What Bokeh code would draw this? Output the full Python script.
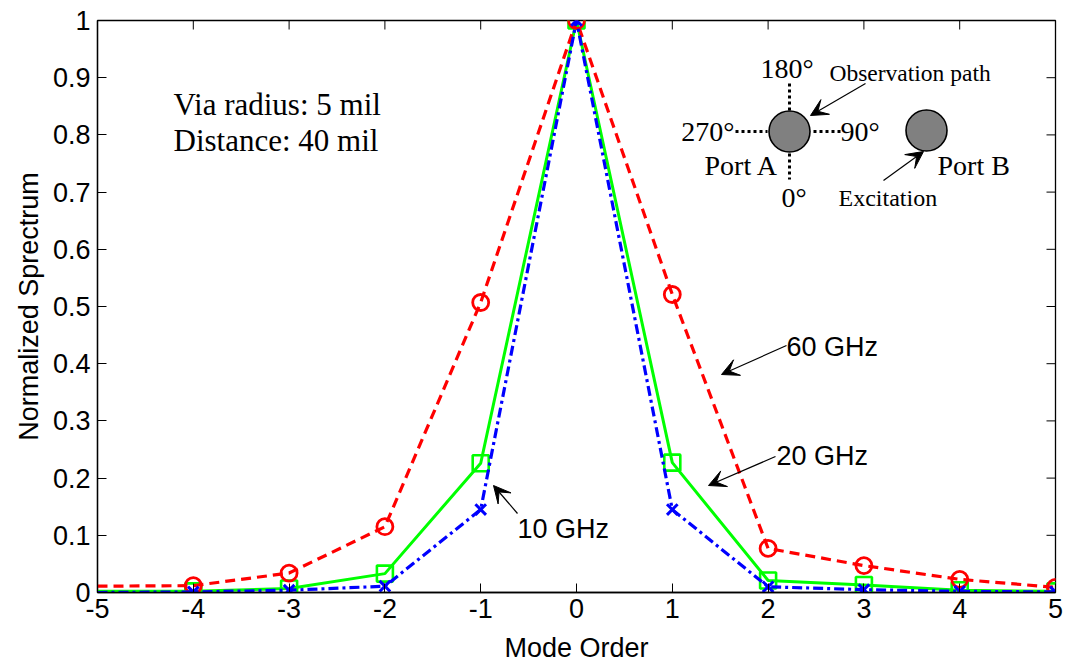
from bokeh.plotting import figure
from bokeh.models import (ColumnDataSource, CDSView, IndexFilter, FixedTicker,
                          Label, Arrow, VeeHead, Range1d)
from bokeh.embed import file_html
from bokeh.resources import INLINE

# ---------------- data ----------------
modes = [-5, -4, -3, -2, -1, 0, 1, 2, 3, 4, 5]
spec_60ghz = [0.011, 0.012, 0.034, 0.115, 0.507, 1.0, 0.521, 0.077, 0.047, 0.023, 0.009]
spec_20ghz = [0.002, 0.002, 0.007, 0.033, 0.226, 1.0, 0.227, 0.021, 0.013, 0.004, 0.002]
spec_10ghz = [0.000, 0.001, 0.004, 0.011, 0.145, 1.0, 0.145, 0.010, 0.005, 0.002, 0.001]
x_ticks = [-5, -4, -3, -2, -1, 0, 1, 2, 3, 4, 5]
x_tick_labels = ["-5", "-4", "-3", "-2", "-1", "0", "1", "2", "3", "4", "5"]
y_ticks = [0, 0.1, 0.2, 0.3, 0.4, 0.5, 0.6, 0.7, 0.8, 0.9, 1]
y_tick_labels = ["0", "0.1", "0.2", "0.3", "0.4", "0.5", "0.6", "0.7", "0.8", "0.9", "1"]

# ---------------- layout ----------------
FL, FT, FW, FH = 97, 20, 958, 572
p = figure(frame_width=FW, frame_height=FH, min_border_left=FL, min_border_right=1067 - FL - FW,
           min_border_top=FT, min_border_bottom=664 - FT - FH,
           x_range=Range1d(-5, 5), y_range=Range1d(0, 1),
           output_backend="svg", toolbar_location=None, background_fill_color="white",
           border_fill_color="white")
p.grid.visible = False
p.outline_line_color = "black"
p.outline_line_width = 1.3

def X(px):
    return -5 + (px - FL) / FW * 10.0

def Y(py):
    return 1 - (py - FT) / FH

SANS = "Liberation Sans"
SERIF = "Liberation Serif"
TICK = 9

for ax in (p.xaxis[0], p.yaxis[0]):
    ax.major_tick_in = TICK
    ax.major_tick_out = 0
    ax.minor_tick_line_color = None
    ax.axis_line_color = "black"
    ax.axis_line_width = 1.3
    ax.major_tick_line_color = "black"
    ax.major_tick_line_width = 1
    ax.major_label_text_font = SANS
    ax.major_label_text_font_size = "27px"
    ax.major_label_text_color = "black"
    ax.axis_label_text_font = SANS
    ax.axis_label_text_font_size = "27px"
    ax.axis_label_text_font_style = "normal"
    ax.axis_label_text_color = "black"

p.xaxis.ticker = FixedTicker(ticks=x_ticks)
p.yaxis.ticker = FixedTicker(ticks=y_ticks)
p.xaxis.major_label_overrides = {t: s for t, s in zip(x_ticks, x_tick_labels)}
p.yaxis.major_label_overrides = {t: s for t, s in zip(y_ticks, y_tick_labels)}
p.xaxis.axis_label = "Mode Order"
p.yaxis.axis_label = "Normalized Sprectrum"
p.xaxis.major_label_standoff = 6
p.yaxis.major_label_standoff = 7
p.xaxis.axis_label_standoff = 12
p.yaxis.axis_label_standoff = 6

# top / right inward ticks of the box (derived from tick lists)
tx = x_ticks[1:-1]
p.segment(x0=tx, y0=[1] * len(tx), x1=tx, y1=[1 - TICK / FH] * len(tx),
          line_color="black", line_width=1)
ty = y_ticks[1:-1]
p.segment(x0=[5] * len(ty), y0=ty, x1=[5 - TICK / FW * 10] * len(ty), y1=ty,
          line_color="black", line_width=1)

# ---------------- series ----------------
src = ColumnDataSource(dict(x=modes, s60=spec_60ghz, s20=spec_20ghz, s10=spec_10ghz))
mview = CDSView(filter=IndexFilter(list(range(1, len(modes)))))

p.line("x", "s20", source=src, line_color="#00FF00", line_width=3)
p.scatter("x", "s20", source=src, view=mview, marker="square", size=16,
          fill_color=None, line_color="#00FF00", line_width=2.6)

p.line("x", "s60", source=src, line_color="#FF0000", line_width=3.2, line_dash="10 6")
p.scatter("x", "s60", source=src, view=mview, marker="circle", size=16,
          fill_color=None, line_color="#FF0000", line_width=2.8)

p.line("x", "s10", source=src, line_color="#0000FF", line_width=3.2, line_dash="10 4 3 4")
p.scatter("x", "s10", source=src, view=mview, marker="x", size=15,
          line_color="#0000FF", line_width=3)

# ---------------- annotations ----------------
def label(txt, px, py, font, size, align="left"):
    p.add_layout(Label(x=X(px), y=Y(py), text=txt, text_font=font, text_font_size=size,
                       text_align=align, text_baseline="middle", text_color="black"))

def arrow(x0, y0, x1, y1, hs=15):
    p.add_layout(Arrow(x_start=X(x0), y_start=Y(y0), x_end=X(x1), y_end=Y(y1),
                       line_color="black", line_width=1.2,
                       end=VeeHead(size=hs, fill_color="black", line_color="black", line_width=1)))

label("Via radius: 5 mil", 173, 104, SERIF, "31px")
label("Distance: 40 mil", 173, 140, SERIF, "31px")

label("60 GHz", 786, 346, SANS, "27px")
label("20 GHz", 776, 455, SANS, "27px")
label("10 GHz", 517, 528, SANS, "27px")
arrow(786, 345, 721, 374, hs=17)
arrow(775, 456, 708, 485, hs=17)
arrow(517, 513, 493, 485, hs=17)

# via diagram
for (ya, yb) in ((83, 110), (153, 179)):
    p.segment(x0=[X(789)], y0=[Y(ya)], x1=[X(789)], y1=[Y(yb)], line_color="black",
              line_width=3, line_dash="3 3")
for (xa, xb) in ((735, 767), (813, 840)):
    p.segment(x0=[X(xa)], y0=[Y(131)], x1=[X(xb)], y1=[Y(131)], line_color="black",
              line_width=3, line_dash="3 3")
p.scatter(x=[X(789), X(926)], y=[Y(131), Y(130)], marker="circle", size=41,
          fill_color="#808080", line_color="black", line_width=1.6)

label("180°", 760, 68, SERIF, "28px")
label("Observation path", 829, 72, SERIF, "23.5px")
label("270°", 734, 131, SERIF, "28px", align="right")
label("90°", 840, 131, SERIF, "28px")
label("Port A", 704, 165, SERIF, "28px")
label("0°", 781, 197, SERIF, "28px")
label("Port B", 937, 165, SERIF, "28px")
label("Excitation", 838, 197, SERIF, "24px")
arrow(865, 83, 810, 115, hs=17)
arrow(883, 180, 923, 151, hs=17)

open("out.html", "w").write(file_html(p, INLINE))
